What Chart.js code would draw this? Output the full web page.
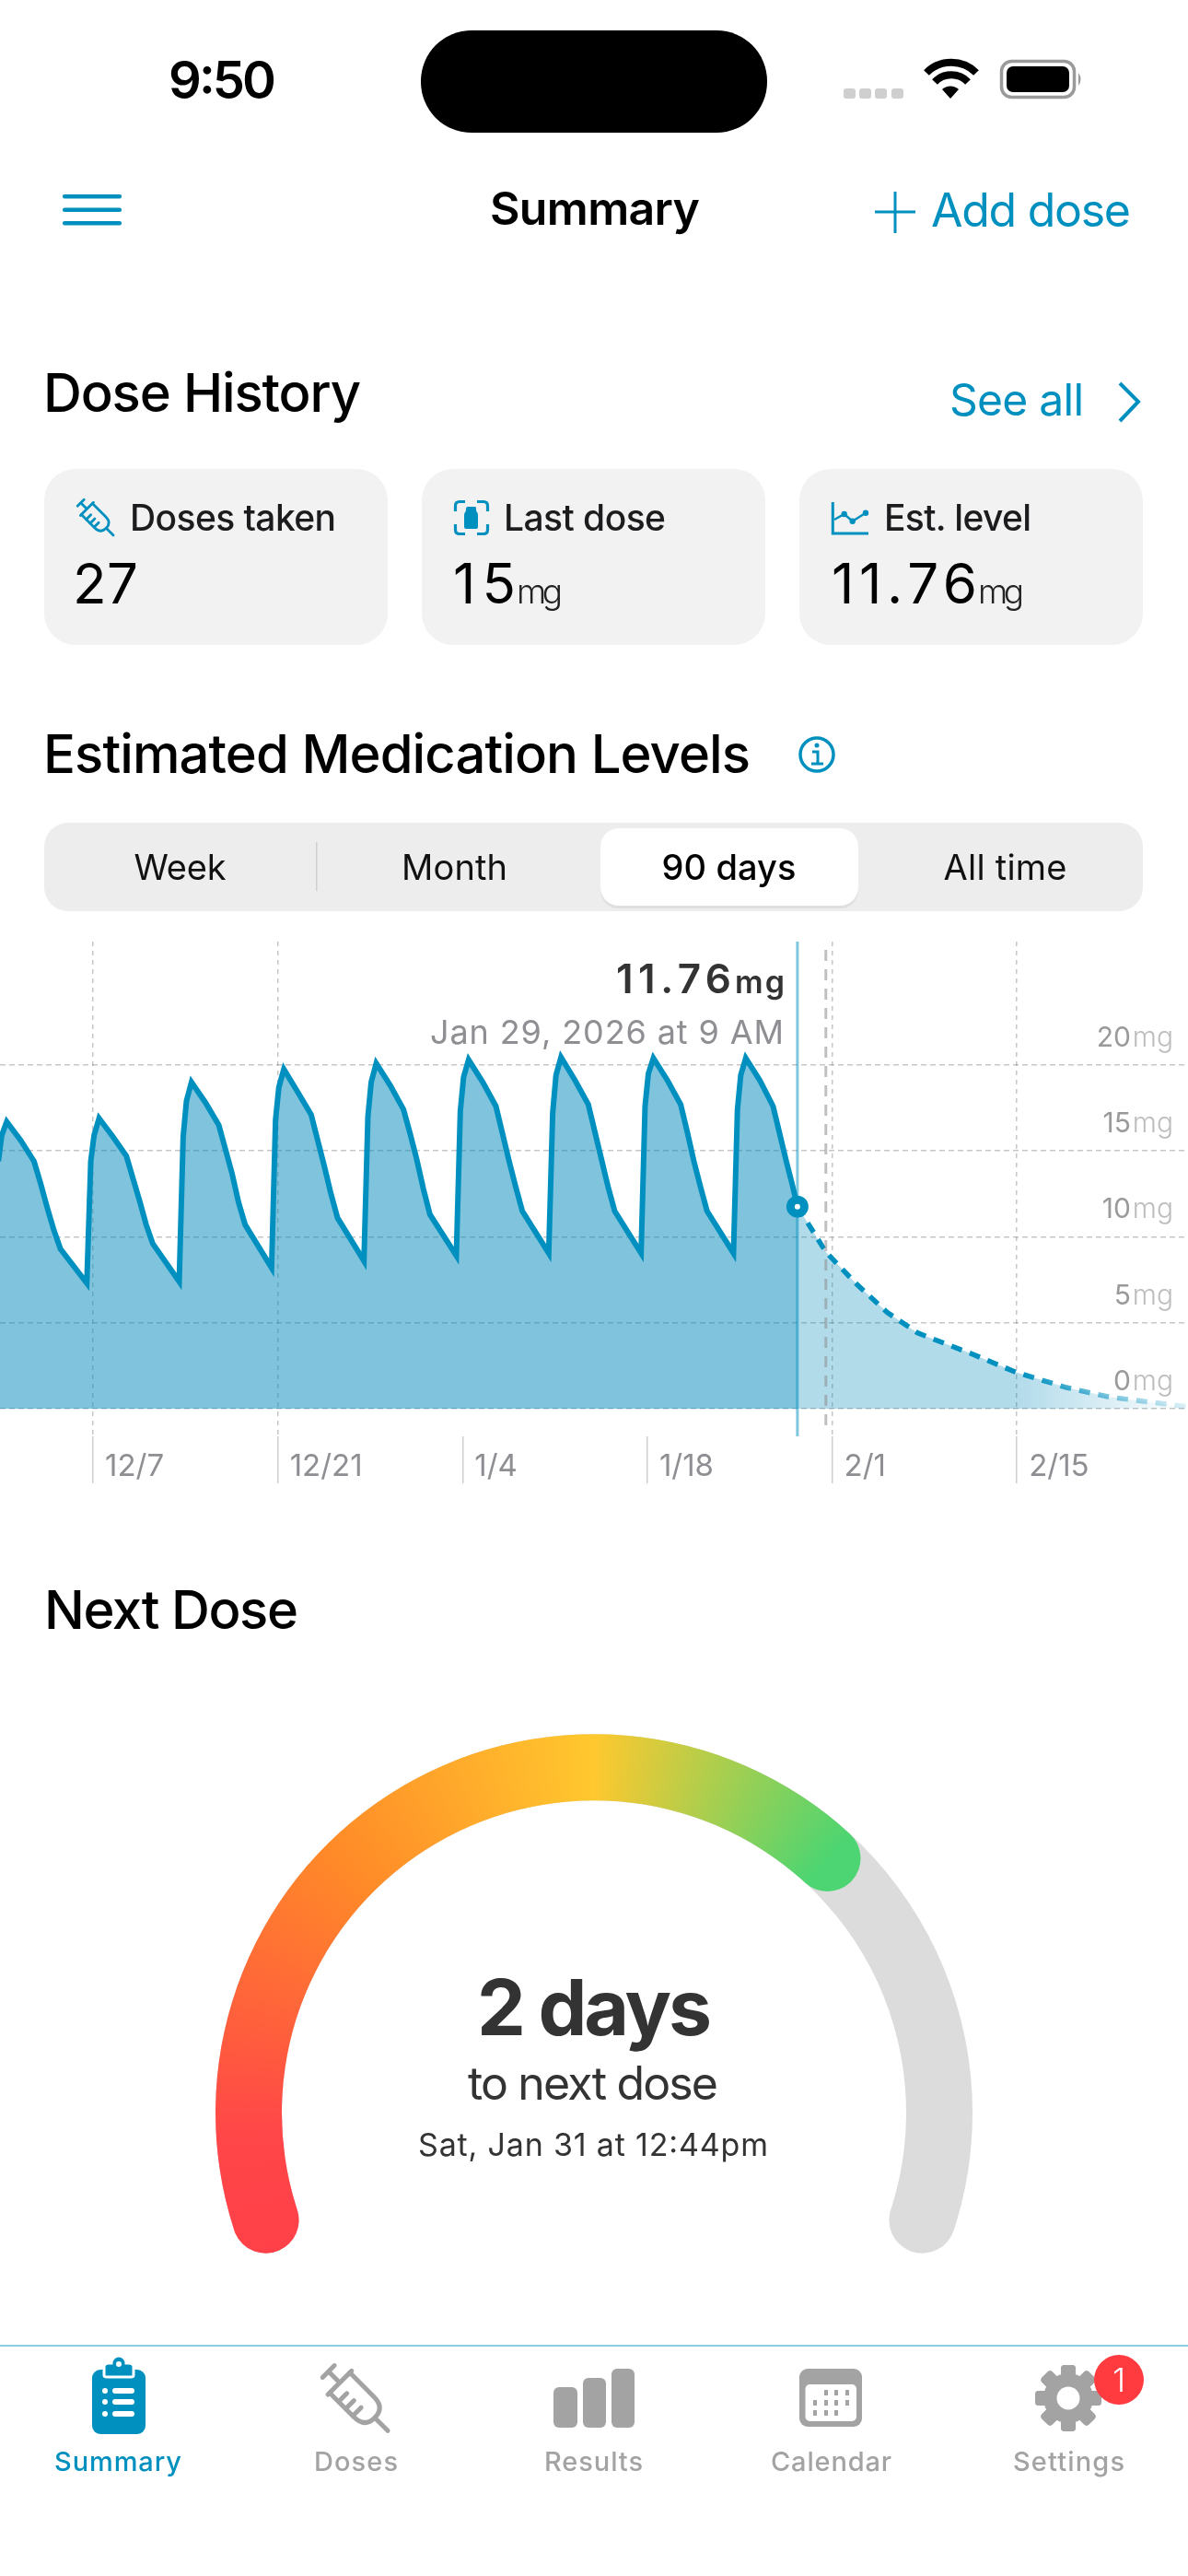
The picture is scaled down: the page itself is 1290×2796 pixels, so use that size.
<!DOCTYPE html>
<html><head><meta charset="utf-8"><title>Summary</title>
<script src="https://cdn.jsdelivr.net/npm/chart.js@4"></script>
<style>
html,body{margin:0;padding:0;background:#fff;width:1290px;height:2796px;overflow:hidden}
#page{position:relative;width:1290px;height:2796px}
canvas{position:absolute}
#chrome{position:absolute;left:0;top:0;pointer-events:none}
#chrome text{font-family:Inter,"Noto Sans",sans-serif}
</style></head><body><div id="page">
<div style="position:absolute;left:0;top:1000px;width:1290px;height:640px"><canvas id="levels" width="1290" height="640"></canvas></div>
<canvas id="gaugeTrack" width="822" height="576" style="left:234px;top:1882px"></canvas>
<canvas id="gaugeFill" width="822" height="576" style="left:234px;top:1882px"></canvas>
<svg id="chrome" width="1290" height="2796" viewBox="0 0 1290 2796" xmlns="http://www.w3.org/2000/svg">
<defs>
<g id="syr" fill="none" stroke-linecap="round" stroke-linejoin="round">
<path d="M-10 0H10M0 0V19M-20 19H20"/>
<path d="M-17 19V60Q-17 78 0 78Q17 78 17 60V19"/>
<path d="M-17 34H-3M-17 46H-3M-17 58H-3"/>
<path d="M0 78V100"/>
</g>
</defs>
<!-- status bar -->
<text x="183" y="107" font-size="56" font-weight="600" textLength="117" fill="#000">9:50</text>
<rect x="457" y="33" width="376" height="111" rx="55" fill="#000"/>
<g fill="#cfcfcf"><rect x="916" y="96" width="13" height="11" rx="3"/><rect x="933" y="96" width="13" height="11" rx="3"/><rect x="950" y="96" width="13" height="11" rx="3"/><rect x="968" y="96" width="13" height="11" rx="3"/></g>
<g fill="none" stroke="#000" stroke-width="8"><path d="M1006 79A38 38 0 0 1 1060 79"/><path d="M1015 89A25 25 0 0 1 1051 89"/></g>
<path d="M1032 107L1023 97A13 13 0 0 1 1041 97Z" fill="#000"/>
<rect x="1087.5" y="66.5" width="79" height="39" rx="11" fill="none" stroke="#9a9a9a" stroke-width="3.5"/>
<rect x="1093" y="72" width="68" height="28" rx="7" fill="#000"/>
<path d="M1171 79Q1176 86 1171 93Z" fill="#9a9a9a"/>
<!-- nav -->
<g fill="#0090bf"><rect x="68" y="211" width="64" height="4.5" rx="2"/><rect x="68" y="225.5" width="64" height="4.5" rx="2"/><rect x="68" y="240" width="64" height="4.5" rx="2"/></g>
<text x="532" y="244" font-size="50" font-weight="600" textLength="228" fill="#000">Summary</text>
<path d="M950 230H994M972 208V253" stroke="#0090bf" stroke-width="3" fill="none"/>
<text x="1011" y="246" font-size="50" font-weight="400" textLength="217" fill="#0090bf">Add dose</text>
<text x="47" y="447" font-size="58" font-weight="500" textLength="345" fill="#000">Dose History</text>
<text x="1031" y="451" font-size="48" font-weight="400" textLength="146" fill="#0090bf">See all</text>
<path d="M1216 416L1236 436L1216 457" fill="none" stroke="#0090bf" stroke-width="4"/>
<!-- cards -->
<g fill="#f2f2f2"><rect x="48" y="509" width="373" height="191" rx="34"/><rect x="458" y="509" width="373" height="191" rx="34"/><rect x="868" y="509" width="373" height="191" rx="34"/></g>
<use href="#syr" transform="translate(87.7,545.7) rotate(-45) scale(.5)" stroke="#0090bf" stroke-width="5.5"/>
<text x="141" y="576" font-size="39" font-weight="500" textLength="224" fill="#1c1c1e">Doses taken</text>
<text x="79" y="655" font-size="60" font-weight="400" textLength="71" fill="#000">27</text>
<path d="M494.5 555V549Q494.5 544.5 499 544.5H505M518 544.5H525Q529.5 544.5 529.5 549V555M494.5 569V575Q494.5 579.5 499 579.5H505M518 579.5H525Q529.5 579.5 529.5 575V569" fill="none" stroke="#0090bf" stroke-width="3.2"/>
<path d="M508 550H516Q517 550 517 552V553Q517 555 518 556Q519 557 519 559V572Q519 574 517 574H506Q504 574 504 572V559Q504 557 505 556Q506 555 506 553V552Q506 550 508 550Z" fill="#0090bf"/>
<text x="547" y="576" font-size="39" font-weight="500" textLength="176" fill="#1c1c1e">Last dose</text>
<text x="492" y="655" font-size="60" font-weight="400" textLength="68" fill="#000">15</text>
<text x="561" y="655" font-size="37" font-weight="300" textLength="50" fill="#222">mg</text>
<path d="M904.3 545V579H943" fill="none" stroke="#0090bf" stroke-width="3"/>
<path d="M906 564L916.7 558L925.7 565.7L940 556.7" fill="none" stroke="#0090bf" stroke-width="2.5"/>
<g fill="#0090bf"><circle cx="916.7" cy="558" r="3.2"/><circle cx="925.7" cy="565.7" r="3.2"/><circle cx="940" cy="556.7" r="3.2"/></g>
<text x="960" y="576" font-size="39" font-weight="500" textLength="160" fill="#1c1c1e">Est. level</text>
<text x="903" y="655" font-size="60" font-weight="400" textLength="158" fill="#000">11.76</text>
<text x="1062" y="655" font-size="37" font-weight="300" textLength="50" fill="#222">mg</text>
<!-- section heading + tabs -->
<text x="47" y="839" font-size="58" font-weight="500" textLength="768" fill="#000">Estimated Medication Levels</text>
<circle cx="887" cy="819" r="18" fill="none" stroke="#0090bf" stroke-width="3.5"/>
<path d="M882 816H888V829M881 829H894" fill="none" stroke="#0090bf" stroke-width="3"/><circle cx="887" cy="809" r="2.5" fill="#0090bf"/>
<rect x="48" y="893" width="1193" height="96" rx="26" fill="#ededed"/>
<rect x="652" y="899" width="280" height="84" rx="20" fill="#d9d9d9" transform="translate(0,3)" opacity=".7"/>
<rect x="652" y="899" width="280" height="84" rx="20" fill="#fff"/>
<rect x="343" y="914" width="1.5" height="53" fill="#cfcfcf"/>
<text x="145.5" y="955" font-size="38" font-weight="400" textLength="100" fill="#111">Week</text>
<text x="436" y="955" font-size="38" font-weight="400" textLength="115" fill="#111">Month</text>
<text x="718.5" y="955" font-size="38" font-weight="500" textLength="146" fill="#000">90 days</text>
<text x="1024.5" y="955" font-size="38" font-weight="400" textLength="134" fill="#111">All time</text>
<!-- chart read-out -->
<text x="669" y="1077.5" font-size="44" font-weight="600" textLength="125" fill="#333">11.76</text>
<text x="798" y="1077.5" font-size="34" font-weight="600" textLength="54" fill="#333">mg</text>
<text x="467" y="1133" font-size="36" font-weight="400" textLength="384" fill="#8e8e93">Jan 29, 2026 at 9 AM</text>
<!-- next dose -->
<text x="48" y="1768" font-size="58" font-weight="500" textLength="276" fill="#000">Next Dose</text>
<text x="518" y="2209" font-size="84" font-weight="700" textLength="255" fill="#333">2 days</text>
<text x="508" y="2279" font-size="50" font-weight="400" textLength="272" fill="#333">to next dose</text>
<text x="454" y="2340" font-size="34" font-weight="400" textLength="380" fill="#333">Sat, Jan 31 at 12:44pm</text>
<!-- tab bar -->
<rect x="0" y="2545" width="1290" height="2" fill="#8ad0e2"/>
<rect x="100" y="2572" width="58" height="70" rx="9" fill="#0090bf"/>
<path d="M113 2578V2569Q113 2565 118 2565H121A8 8 0 0 1 137 2565H140Q145 2565 145 2569V2578Q145 2580 142 2580H116Q113 2580 113 2578Z" fill="#0090bf" stroke="#fff" stroke-width="3"/>
<circle cx="129" cy="2566" r="3" fill="#fff"/>
<g fill="#fff"><circle cx="114" cy="2595" r="3"/><circle cx="114" cy="2607" r="3"/><circle cx="114" cy="2620" r="3"/><rect x="122" y="2592" width="24" height="6" rx="3"/><rect x="122" y="2604" width="24" height="6" rx="3"/><rect x="122" y="2617" width="24" height="6" rx="3"/></g>
<use href="#syr" transform="translate(356.7,2574) rotate(-45) scale(.91)" stroke="#a3a3a3" stroke-width="5.5"/>
<g fill="#a3a3a3"><rect x="601" y="2591" width="26" height="44" rx="6"/><rect x="633" y="2581" width="25" height="54" rx="6"/><rect x="664" y="2571" width="25" height="64" rx="6"/></g>
<rect x="868" y="2571" width="68" height="63" rx="9" fill="#a3a3a3"/>
<rect x="874.5" y="2588" width="55.5" height="40" rx="5" fill="#fff"/>
<g fill="#a3a3a3"><rect x="895" y="2594" width="4" height="6"/><rect x="906" y="2594" width="4" height="6"/><rect x="918" y="2594" width="4" height="6"/><rect x="883" y="2605" width="4" height="6"/><rect x="895" y="2605" width="4" height="6"/><rect x="906" y="2605" width="4" height="6"/><rect x="918" y="2605" width="4" height="6"/><rect x="883" y="2616" width="4" height="6"/><rect x="895" y="2616" width="4" height="6"/><rect x="906" y="2616" width="4" height="6"/></g>
<g id="gear" fill="#a3a3a3"></g>
<circle cx="1215" cy="2583" r="27" fill="#ff3b40"/>
<text x="1215" y="2596" font-size="36" font-weight="300" text-anchor="middle" fill="#fff">1</text>
<g font-size="29" font-weight="500" fill="#a3a3a3">
<text x="59" y="2682" textLength="138" fill="#0090bf">Summary</text>
<text x="341" y="2682" textLength="91">Doses</text>
<text x="591" y="2682" textLength="107">Results</text>
<text x="837" y="2682" textLength="131">Calendar</text>
<text x="1100" y="2682" textLength="121">Settings</text>
</g>
</svg>
</div>
<script>
// ---- chart data (days counted from Dec 7) ----
const tickDays = [0, 14, 28, 42, 56, 70];
const tickLabels = ['12/7', '12/21', '1/4', '1/18', '2/1', '2/15'];
const dashedTickDays = [0, 14, 56, 70];
const levelTicks = [0, 5, 10, 15, 20];
const pastDays = [
-7.47,-7.17,-6.92,-6.54,-5.47,-4.47,-3.97,-3.47,-2.97,-2.47,
-0.47,-0.17,0.08,0.46,1.53,2.53,3.03,3.53,4.03,4.53,
6.53,6.83,7.08,7.46,8.53,9.53,10.03,10.53,11.03,11.53,
13.53,13.83,14.08,14.46,15.53,16.53,17.03,17.53,18.03,18.53,
20.53,20.83,21.08,21.46,22.53,23.53,24.03,24.53,25.03,25.53,
27.53,27.83,28.08,28.46,29.53,30.53,31.03,31.53,32.03,32.53,
34.53,34.83,35.08,35.46,36.53,37.53,38.03,38.53,39.03,39.53,
41.53,41.83,42.08,42.46,43.53,44.53,45.03,45.53,46.03,46.53,
48.53,48.83,49.08,49.46,50.53,51.53,52.03,52.53,53.03,53.375];
const pastLevels = [
7.2,14.4,15.9,16.7,15.6,14.4,13.1,11.7,10.4,9.3,
7.3,14.4,15.9,16.9,15.8,14.7,13.4,12.1,10.7,9.6,
7.4,15.8,17.9,19.0,17.8,16.5,15.1,13.7,12.0,10.7,
8.2,16.8,18.7,19.75,18.4,17.1,15.6,14.1,12.5,11.1,
8.6,17.0,19.0,20.1,18.8,17.4,16.0,14.5,12.8,11.3,
8.9,17.3,19.3,20.3,19.0,17.6,16.0,14.4,12.9,11.5,
9.05,17.2,19.4,20.45,19.1,17.7,16.1,14.5,12.9,11.5,
9.05,17.6,19.5,20.4,19.1,17.7,16.1,14.4,12.9,11.5,
9.05,17.4,19.4,20.4,19.1,17.6,16.0,14.4,12.9,11.76];
const futureDays = [53.375, 55.55, 57.86, 60.18, 62.5, 66.55, 70, 73.76, 77, 82.75, 83];
const futureLevels = [11.76, 9.1, 7.25, 5.6, 4.4, 3.2, 2.1, 1.23, 0.68, 0.13, 0.1];
const selectedDay = 53.375, selectedLevel = 11.76, nextDoseDay = 55.53;
const gaugeElapsed = 4.98, gaugeRemaining = 2.02;

const BLUE = '#0090bf';
const FONT = 'Inter, "Noto Sans", sans-serif';
const xy = (xs, ys) => xs.map((x, i) => ({x, y: ys[i]}));
const yMin = -1.609, yMax = 27.18;
const noPad = s => { s.paddingLeft = s.paddingRight = s.paddingTop = s.paddingBottom = 0; };

const fade = (c, from, to) => {
  const {ctx, scales} = c.chart;
  if (!scales.x || !isFinite(scales.x.left)) return from;
  const g = ctx.createLinearGradient(scales.x.getPixelForValue(70), 0, scales.x.getPixelForValue(83), 0);
  g.addColorStop(0, from); g.addColorStop(1, to); return g;
};

const mgLabels = {
  id: 'mgLabels',
  afterDraw(chart) {
    const {ctx, scales: {y}} = chart;
    ctx.save();
    ctx.font = '300 30px ' + FONT;
    ctx.fillStyle = '#bdbdbd'; ctx.textAlign = 'right'; ctx.textBaseline = 'middle';
    levelTicks.forEach(v => ctx.fillText('mg', 1274, y.getPixelForValue(v) - 29));
    ctx.restore();
  }
};

new Chart(document.getElementById('levels'), {
  type: 'line',
  plugins: [mgLabels],
  data: {datasets: [
    {data: [{x: selectedDay, y: selectedLevel}], showLine: false, pointRadius: 7.5, pointHoverRadius: 7.5,
     pointBorderWidth: 9, pointBackgroundColor: '#fff', pointBorderColor: BLUE},
    {data: [{x: selectedDay, y: yMin}, {x: selectedDay, y: yMax}], borderColor: 'rgba(0,144,191,.5)', borderWidth: 3, pointRadius: 0, fill: false},
    {data: [{x: nextDoseDay, y: -0.965}, {x: nextDoseDay, y: yMax}], borderColor: 'rgba(140,140,140,.55)', borderWidth: 3, borderDash: [12, 9], pointRadius: 0, fill: false},
    {data: xy(pastDays, pastLevels), borderColor: BLUE, borderWidth: 6, pointRadius: 0, tension: 0,
     fill: {value: 0}, backgroundColor: 'rgba(0,136,186,.5)'},
    {data: xy(futureDays, futureLevels), borderWidth: 5.5, borderDash: [12, 9], pointRadius: 0, tension: 0,
     borderColor: c => fade(c, BLUE, 'rgba(0,144,191,.12)'),
     fill: {value: 0},
     backgroundColor: c => fade(c, 'rgba(0,136,186,.3)', 'rgba(0,136,186,0)')}
  ]},
  options: {
    responsive: false, animation: false, events: [],
    layout: {autoPadding: false, padding: {top: 22, left: 0, right: 0, bottom: 0}},
    plugins: {legend: {display: false}, tooltip: {enabled: false}},
    scales: {
      x: {
        type: 'linear', min: -7.048, max: 82.97,
        afterBuildTicks: s => { s.ticks = tickDays.map(value => ({value})); },
        afterFit: s => { s.height = 81; noPad(s); },
        border: {display: false, dash: [5, 5]},
        grid: {
          color: c => c.tick && dashedTickDays.includes(c.tick.value) ? 'rgba(120,120,120,.42)' : 'rgba(0,0,0,0)',
          lineWidth: 1.5, tickLength: 51, tickColor: '#cfcfcf', tickWidth: 1.5, tickBorderDash: []
        },
        ticks: {
          callback: v => tickLabels[tickDays.indexOf(v)],
          align: 'start', labelOffset: 13, padding: -38, maxRotation: 0, autoSkip: false,
          color: '#8e8e93', font: {family: FONT, size: 33}
        }
      },
      y: {
        position: 'right', min: yMin, max: yMax,
        afterBuildTicks: s => { s.ticks = levelTicks.map(value => ({value})); },
        afterFit: s => { s.width = 0; noPad(s); },
        border: {display: false, dash: [6, 4]},
        grid: {color: 'rgba(120,120,120,.42)', lineWidth: 1.5, drawTicks: false},
        ticks: {
          callback: v => String(v), mirror: true, padding: -62, labelOffset: -29,
          color: '#9a9a9a', font: {family: FONT, size: 30}
        }
      }
    }
  }
});

const gaugeBase = {
  responsive: false, animation: false, events: [],
  rotation: -113.6, circumference: 227.2, cutout: '82.48%',
  layout: {padding: 0},
  plugins: {legend: {display: false}, tooltip: {enabled: false}}
};
const round = 36;
new Chart(document.getElementById('gaugeTrack'), {
  type: 'doughnut',
  data: {datasets: [{data: [gaugeElapsed + gaugeRemaining], backgroundColor: '#dcdcdc', borderWidth: 0, borderRadius: round}]},
  options: gaugeBase
});
new Chart(document.getElementById('gaugeFill'), {
  type: 'doughnut',
  data: {datasets: [{data: [gaugeElapsed, gaugeRemaining], borderWidth: 0,
    borderRadius: [round, 0],
    backgroundColor: c => {
      if (c.dataIndex === 1) return 'rgba(0,0,0,0)';
      const start = (-90 - 113.6) * Math.PI / 180;
      const g = c.chart.ctx.createConicGradient(start, 411, 411);
      g.addColorStop(0, '#ff4048');
      g.addColorStop(.055, '#ff4648');
      g.addColorStop(.19, '#ff8a28');
      g.addColorStop(.315, '#ffc82e');
      g.addColorStop(.435, '#4cd572');
      g.addColorStop(1, '#4cd572');
      return g;
    }}]},
  options: gaugeBase
});

// gear teeth
const gear = document.getElementById('gear');
const NS = 'http://www.w3.org/2000/svg';
for (let i = 0; i < 8; i++) {
  const r = document.createElementNS(NS, 'rect');
  r.setAttribute('x', 1152); r.setAttribute('y', 2567); r.setAttribute('width', 16); r.setAttribute('height', 72); r.setAttribute('rx', 4);
  r.setAttribute('transform', 'rotate(' + (i * 45) + ' 1160 2603)');
  gear.appendChild(r);
}
const mk = (cx, r, f) => { const c = document.createElementNS(NS, 'circle'); c.setAttribute('cx', cx); c.setAttribute('cy', 2603); c.setAttribute('r', r); c.setAttribute('fill', f); gear.appendChild(c); };
mk(1160, 27, '#a3a3a3'); mk(1160, 12.5, '#fff');
</script>
</body></html>
